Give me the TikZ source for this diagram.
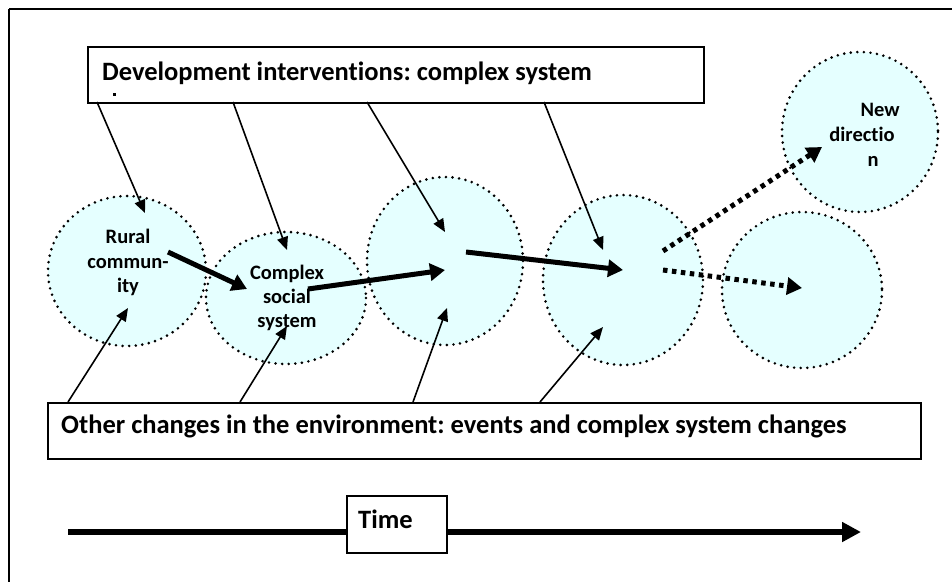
\documentclass[tikz,border=0pt]{standalone}
\usepackage{fontspec}
\setmainfont{Carlito}[Ligatures=NoCommon]
\usetikzlibrary{arrows.meta,shapes.geometric}
\definecolor{bubblefill}{RGB}{229,255,255}
\frenchspacing
\begin{document}
\begin{tikzpicture}[x=1pt,y=-1pt,
  bubble/.style={ellipse,fill=bubblefill,inner sep=0pt},
  rim/.style={line width=2.9pt,dash pattern=on 0pt off 6.6pt,line cap=round},
  boxed/.style={draw,line width=2.4pt,inner sep=0pt},
  bigtext/.style={anchor=base west,font=\fontsize{26.5}{30}\selectfont\bfseries,inner sep=0pt},
  smalltext/.style={anchor=base,font=\fontsize{20.5}{24}\selectfont\bfseries,inner sep=0pt},
  thinarrow/.style={line width=1.6pt,-{Triangle[length=13pt,width=11pt]}},
  thickarrow/.style={line width=5pt,-{Triangle[length=15pt,width=17pt]}},
  dotarrow/.style={line width=5pt,dash pattern=on 4.5pt off 4.5pt,-{Triangle[length=15pt,width=17pt]}},
]
\useasboundingbox (0,0) rectangle (952,582);

% frame
\draw[line width=2.4pt] (9,9) -- (952,9);
\draw[line width=1.5pt] (9,9) -- (9,582);

% bubbles (fills first, then dotted rims on top)
\node[bubble,minimum width=158pt,minimum height=150pt] (c1) at (127,271) {};
\node[bubble,minimum width=160pt,minimum height=132pt] (c2) at (286,298) {};
\node[bubble,minimum width=156pt,minimum height=168pt] (c3) at (445,261) {};
\node[bubble,minimum width=160pt,minimum height=170pt] (c4) at (623,280) {};
\node[bubble,minimum width=160pt,minimum height=156pt] (c5) at (802,290) {};
\node[bubble,minimum width=156pt,minimum height=160pt] (c6) at (860,132) {};
\draw[rim] (c1.center) ellipse [x radius=79,y radius=75];
\draw[rim] (c2.center) ellipse [x radius=80,y radius=66];
\draw[rim] (c3.center) ellipse [x radius=78,y radius=84];
\draw[rim] (c4.center) ellipse [x radius=80,y radius=85];
\draw[rim] (c5.center) ellipse [x radius=80,y radius=78];
\draw[rim] (c6.center) ellipse [x radius=78,y radius=80];

% bubble labels
\node[smalltext] (r1) at (128,243) {Rural};
\node[smalltext] (r2) at (128,268) {commun-};
\node[smalltext] (r3) at (128,292) {ity};
\node[smalltext] (s1) at (287,279) {Complex};
\node[smalltext] (s2) at (287,303) {social};
\node[smalltext] (s3) at (287,327) {system};
\node[smalltext] (n1) at (880,116) {New};
\node[smalltext] (n2) at (862,141) {directio};
\node[smalltext] (n3) at (873,166) {n};

% boxes
\node[boxed,fill=white,minimum width=616pt,minimum height=56pt,anchor=north west] (top) at (87,46) {};
\node[bigtext] (toptext) at (102,80) {Development interventions: complex system};
\fill (113,93) rectangle (115.5,96);
\node[boxed,fill=white,minimum width=873pt,minimum height=56pt,anchor=north west] (bot) at (47,402) {};
\node[bigtext] (bottext) at (61,433) {Other changes in the environment: events and complex system changes};

% arrow end points
\coordinate (t1) at (97,102);   \coordinate (h1) at (145,213);
\coordinate (t2) at (233,102);  \coordinate (h2) at (287,250);
\coordinate (t3) at (367,102);  \coordinate (h3) at (445,232);
\coordinate (t4) at (544,102);  \coordinate (h4) at (603,250);
\coordinate (b1) at (68,402);   \coordinate (k1) at (128,308);
\coordinate (b2) at (240,402);  \coordinate (k2) at (287,326);
\coordinate (b3) at (413,402);  \coordinate (k3) at (447,308);
\coordinate (b4) at (540,402);  \coordinate (k4) at (603,327);

% influences from interventions and environment
\draw[thinarrow] (t1) -- (h1);
\draw[thinarrow] (t2) -- (h2);
\draw[thinarrow] (t3) -- (h3);
\draw[thinarrow] (t4) -- (h4);
\draw[thinarrow] (b1) -- (k1);
\draw[thinarrow] (b2) -- (k2);
\draw[thinarrow] (b3) -- (k3);
\draw[thinarrow] (b4) -- (k4);

% system trajectory
\coordinate (p1) at (168,252); \coordinate (q1) at (247,289);
\coordinate (p2) at (308,289); \coordinate (q2) at (445,270);
\coordinate (p3) at (466,252); \coordinate (q3) at (623,270);
\draw[thickarrow] (p1) -- (q1);
\draw[line width=2pt] (p2) -- ++(0,10);
\draw[thickarrow] (p2) -- (q2);
\draw[thickarrow] (p3) -- (q3);

% possible futures
\coordinate (p4) at (663,251); \coordinate (q4) at (822,147);
\coordinate (p5) at (663,270); \coordinate (q5) at (802,288);
\draw[dotarrow] (p4) -- (q4);
\draw[dotarrow] (p5) -- (q5);

% time axis
\coordinate (ts) at (68,532); \coordinate (te) at (861,532);
\draw[line width=6.5pt,-{Triangle[length=19pt,width=19pt]}] (ts) -- (te);
\node[draw,line width=1.5pt,fill=white,minimum width=100pt,minimum height=57pt,anchor=north west] (timebox) at (346,495) {};
\node[bigtext] (timetext) at (358,528) {Time};
\end{tikzpicture}
\end{document}
